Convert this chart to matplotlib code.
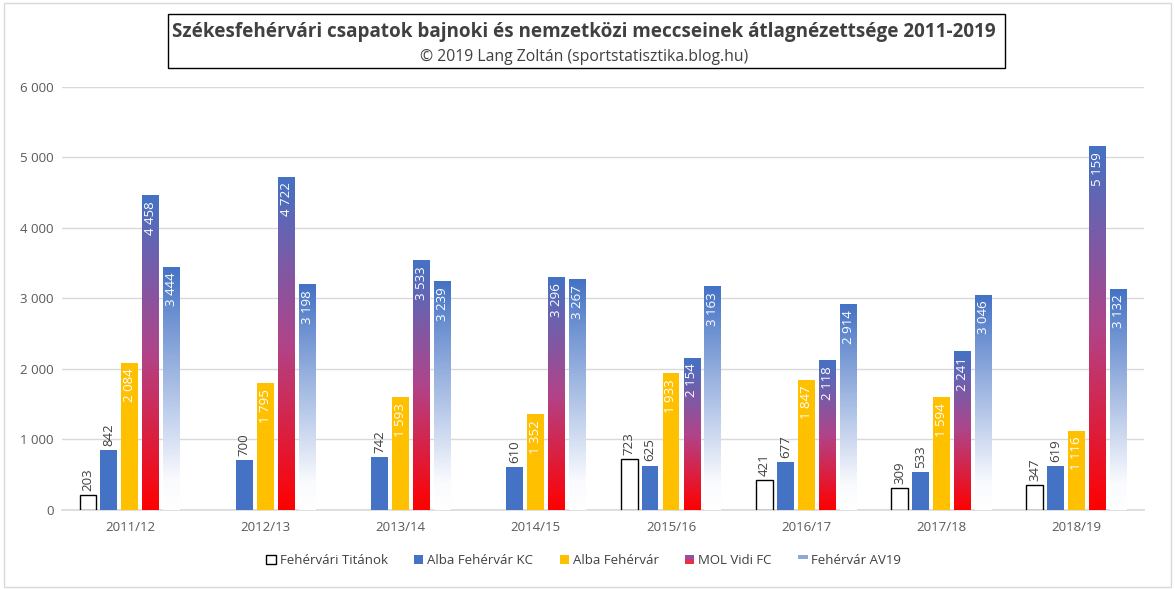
import numpy as np
import matplotlib.pyplot as plt
from matplotlib.colors import LinearSegmentedColormap
from matplotlib.patches import Rectangle
from matplotlib.legend_handler import HandlerBase
from matplotlib.ticker import FuncFormatter

plt.rcParams['font.family'] = ['Open Sans', 'DejaVu Sans']

seasons = ['2011/12', '2012/13', '2013/14', '2014/15', '2015/16', '2016/17', '2017/18', '2018/19']
titanok = [203, np.nan, np.nan, np.nan, 723, 421, 309, 347]
alba_kc = [842, 700, 742, 610, 625, 677, 533, 619]
alba_fehervar = [2084, 1795, 1593, 1352, 1933, 1847, 1594, 1116]
vidi = [4458, 4722, 3533, 3296, 2154, 2118, 2241, 5159]
av19 = [3444, 3198, 3239, 3267, 3163, 2914, 3046, 3132]
series_names = ['Fehérvári Titánok', 'Alba Fehérvár KC', 'Alba Fehérvár', 'MOL Vidi FC', 'Fehérvár AV19']

BLUE = '#4472C4'
GOLD = '#FFC000'
TXT = '#404040'
vidi_cmap = LinearSegmentedColormap.from_list('vidi', ['#FF0000', '#B0448A', BLUE])
av_cmap = LinearSegmentedColormap.from_list('av', [(0, '#FFFFFF'), (0.12, '#FAFBFE'), (1, BLUE)])


def fmt(v):
    return f'{int(v):,}'.replace(',', ' ')


fig = plt.figure(figsize=(11.75, 5.9), dpi=100)
fig.patches.append(Rectangle((0.003, 0.005), 0.994, 0.99, transform=fig.transFigure,
                             fill=False, edgecolor='#D9D9D9', lw=1))
ax = fig.add_axes([0.053, 0.136, 0.921, 0.717])

x = np.arange(len(seasons))
step = 0.155
w = 0.125
offsets = (np.arange(5) - 2) * step
grad = np.linspace(0, 1, 256).reshape(-1, 1)
LS = 9.5

for i, xc in enumerate(x):
    # Titanok
    v = titanok[i]
    if not np.isnan(v):
        xb = xc + offsets[0]
        ax.bar(xb, v, w, facecolor='white', edgecolor='black', lw=1, zorder=3)
        ax.text(xb, v + 60, fmt(v), rotation=90, ha='center', va='bottom', color=TXT, fontsize=LS)
    # Alba KC
    xb = xc + offsets[1]
    v = alba_kc[i]
    ax.bar(xb, v, w, color=BLUE, zorder=3)
    ax.text(xb, v + 60, fmt(v), rotation=90, ha='center', va='bottom', color=TXT, fontsize=LS)
    # Alba Fehervar
    xb = xc + offsets[2]
    v = alba_fehervar[i]
    ax.bar(xb, v, w, color=GOLD, zorder=3)
    ax.text(xb, v - 80, fmt(v), rotation=90, ha='center', va='top', color='white', fontsize=LS)
    # Vidi & AV19 gradient bars
    for k, vals, cmap in [(3, vidi, vidi_cmap), (4, av19, av_cmap)]:
        xb = xc + offsets[k]
        v = vals[i]
        ax.imshow(grad, cmap=cmap, origin='lower', aspect='auto',
                  extent=[xb - w / 2, xb + w / 2, 0, v], zorder=3)
        ax.text(xb, v - 80, fmt(v), rotation=90, ha='center', va='top', color='white', fontsize=LS, zorder=4)

ax.set_xlim(-0.5, len(seasons) - 0.5)
ax.set_ylim(0, 6000)
ax.set_yticks(range(0, 6001, 1000))
ax.yaxis.set_major_formatter(FuncFormatter(lambda v, p: fmt(v)))
ax.set_xticks(x)
ax.set_xticklabels(seasons)
ax.grid(axis='y', color='#D9D9D9', lw=1, zorder=0)
ax.set_axisbelow(True)
for s in ['top', 'right', 'left']:
    ax.spines[s].set_visible(False)
ax.spines['bottom'].set_color('#D9D9D9')
ax.spines['bottom'].set_linewidth(1.2)
ax.tick_params(length=0, colors='#595959', labelsize=9.5, pad=8)
ax.tick_params(axis='y', pad=6)


class GradHandler(HandlerBase):
    def __init__(self, top, bottom):
        super().__init__()
        self.top, self.bottom = top, bottom

    def create_artists(self, legend, orig, xd, yd, width, height, fontsize, trans):
        s = height
        x0 = xd + width - s
        r1 = Rectangle((x0, yd + s / 2), s, s / 2, facecolor=self.top, edgecolor='none', transform=trans)
        r2 = Rectangle((x0, yd), s, s / 2, facecolor=self.bottom, edgecolor='none', transform=trans)
        return [r1, r2]


h_tit = Rectangle((0, 0), 1, 1, facecolor='white', edgecolor='black', lw=1)
h_kc = Rectangle((0, 0), 1, 1, facecolor=BLUE)
h_af = Rectangle((0, 0), 1, 1, facecolor=GOLD)
h_vidi = Rectangle((0, 0), 1, 1)
h_av = Rectangle((0, 0), 1, 1)
leg = fig.legend([h_tit, h_kc, h_af, h_vidi, h_av], series_names, loc='center',
                 bbox_to_anchor=(0.497, 0.05), ncol=5, frameon=False, fontsize=9.5,
                 handlelength=0.7, handleheight=0.7, handletextpad=0.3, columnspacing=2.0,
                 handler_map={h_vidi: GradHandler('#8A55A8', '#E8304A'),
                              h_av: GradHandler('#8FA8DC', '#FFFFFF')})
for t in leg.get_texts():
    t.set_color(TXT)

fig.text(0.497, 0.945, 'Székesfehérvári csapatok bajnoki és nemzetközi meccseinek átlagnézettsége 2011-2019',
         ha='center', va='center', fontsize=13.6, fontweight='bold', color=TXT)
fig.text(0.497, 0.904, '© 2019 Lang Zoltán (sportstatisztika.blog.hu)',
         ha='center', va='center', fontsize=11.3, color=TXT)
fig.patches.append(Rectangle((0.143, 0.885), 0.712, 0.092, transform=fig.transFigure,
                             fill=False, edgecolor='black', lw=1))

fig.savefig('out.png', dpi=100)
